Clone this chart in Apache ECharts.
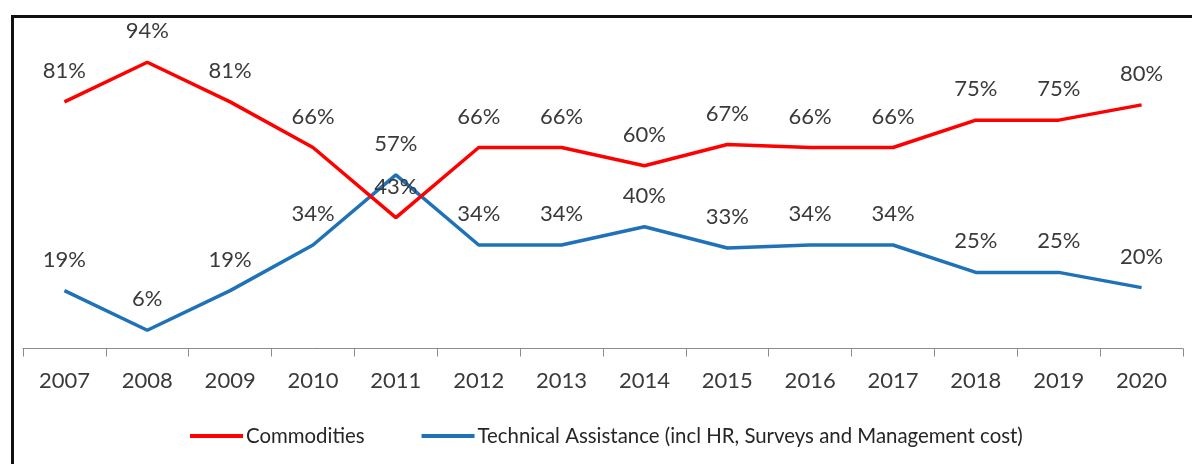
<!DOCTYPE html>
<html>
<head>
<meta charset="utf-8">
<script src="https://cdn.jsdelivr.net/npm/echarts@6/dist/echarts.min.js"></script>
<style>
  html, body { margin: 0; padding: 0; background: #ffffff; }
  #wrap { position: relative; width: 1192px; height: 464px; overflow: hidden; background: #ffffff; }
  #frame { position: absolute; left: 11px; top: 15px; width: 1200px; height: 500px;
           border-left: 3px solid #111; border-top: 3px solid #111; box-sizing: border-box; }
  #chart { position: absolute; left: 0; top: 0; width: 1192px; height: 464px; }
</style>
</head>
<body>
<div id="wrap">
  <div id="frame"></div>
  <div id="chart"></div>
</div>
<script>
// Share of spending by cost type, per year (%)
const years = ['2007','2008','2009','2010','2011','2012','2013','2014','2015','2016','2017','2018','2019','2020'];
const commodities = [81, 94, 81, 66, 43, 66, 66, 60, 67, 66, 66, 75, 75, 80];
const technicalAssistance = [19, 6, 19, 34, 57, 34, 34, 40, 33, 34, 34, 25, 25, 20];
const seriesNames = ['Commodities', 'Technical Assistance (incl HR, Surveys and Management cost)'];

const FONT = 'Lato, "Open Sans", sans-serif';
const labelStyle = {
  show: true,
  position: 'top',
  distance: 20,
  color: '#3a3a3a',
  fontFamily: FONT,
  fontSize: 22,
  formatter: p => p.value + '%'
};

const chart = echarts.init(document.getElementById('chart'), null, { renderer: 'canvas' });
chart.setOption({
  animation: false,
  backgroundColor: 'transparent',
  grid: { left: 23, right: 9, top: 44, bottom: 115.5 },
  legend: {
    left: 185,
    top: 421,
    icon: 'rect',
    itemWidth: 53,
    itemHeight: 4,
    itemGap: 57,
    textStyle: { color: '#262626', fontFamily: FONT, fontSize: 20.4, padding: [0, 0, 0, -2] },
    data: seriesNames
  },
  xAxis: {
    type: 'category',
    data: years,
    boundaryGap: true,
    axisLine: { lineStyle: { color: '#8c8c8c', width: 1 } },
    axisTick: { show: true, length: 8, lineStyle: { color: '#8c8c8c' } },
    axisLabel: { color: '#3a3a3a', fontFamily: FONT, fontSize: 22, margin: 21 }
  },
  yAxis: {
    type: 'value',
    min: 0,
    max: 100,
    show: false,
    splitLine: { show: false }
  },
  series: [
    {
      name: seriesNames[0],
      type: 'line',
      data: commodities,
      symbol: 'circle',
      symbolSize: 0,
      showSymbol: true,
      lineStyle: { color: '#ff0000', width: 3.5 },
      itemStyle: { color: '#ff0000' },
      label: labelStyle,
      z: 3
    },
    {
      name: seriesNames[1],
      type: 'line',
      data: technicalAssistance,
      symbol: 'circle',
      symbolSize: 0,
      showSymbol: true,
      lineStyle: { color: '#1f72b8', width: 3.5 },
      itemStyle: { color: '#1f72b8' },
      label: labelStyle,
      z: 2
    }
  ]
});
</script>
</body>
</html>
